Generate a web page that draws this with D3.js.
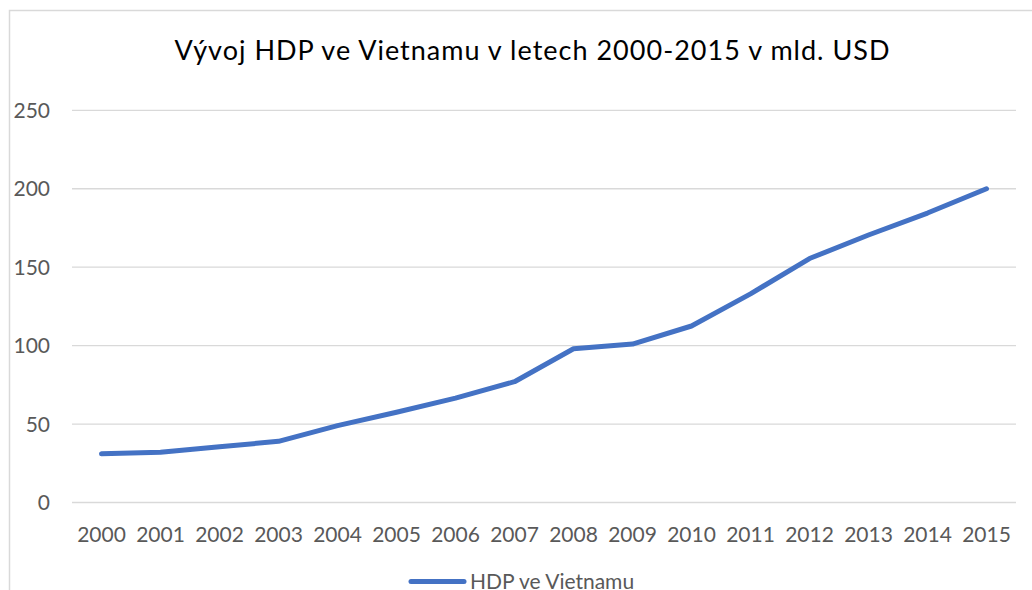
<!DOCTYPE html>
<html>
<head>
<meta charset="utf-8">
<script src="https://cdn.jsdelivr.net/npm/d3@7/dist/d3.min.js"></script>
<style>
  body { margin: 0; background: #fff; }
  svg { display: block; font-family: Lato, "Open Sans", sans-serif; }
</style>
</head>
<body>
<script>
// data
var years = ["2000","2001","2002","2003","2004","2005","2006","2007",
             "2008","2009","2010","2011","2012","2013","2014","2015"];
var hdp = [31, 32, 35.5, 39, 49, 57.5, 66.5, 77, 98, 101, 112.5, 133, 155.5, 170.5, 184.5, 200];
var yTicks = [0, 50, 100, 150, 200, 250];
var title = "Vývoj HDP ve Vietnamu v letech 2000-2015 v mld. USD";
var seriesName = "HDP ve Vietnamu";

var width = 1032, height = 590;
var plotLeft = 72, plotRight = 1016, plotTop = 110.3, plotBottom = 502.5;

var svg = d3.select("body").append("svg")
  .attr("width", width)
  .attr("height", height);

// chart frame
svg.append("rect")
  .attr("x", 9.5).attr("y", 10.5)
  .attr("width", width + 10).attr("height", height + 10)
  .attr("fill", "none")
  .attr("stroke", "#d9d9d9")
  .attr("stroke-width", 1.5);

var x = d3.scaleBand().domain(years).range([plotLeft, plotRight]);
var y = d3.scaleLinear().domain([0, 250]).range([plotBottom, plotTop]);

// gridlines
svg.append("g").selectAll("line")
  .data(yTicks)
  .enter().append("line")
  .attr("x1", plotLeft).attr("x2", plotRight)
  .attr("y1", function(d) { return y(d); })
  .attr("y2", function(d) { return y(d); })
  .attr("stroke", "#d9d9d9")
  .attr("stroke-width", 1.3);

// y labels
svg.append("g").selectAll("text")
  .data(yTicks)
  .enter().append("text")
  .attr("x", 50)
  .attr("y", function(d) { return y(d); })
  .attr("dy", "0.36em")
  .attr("text-anchor", "end")
  .attr("fill", "#595959")
  .style("font-size", "21px")
  .text(function(d) { return d; });

// x labels
svg.append("g").selectAll("text")
  .data(years)
  .enter().append("text")
  .attr("x", function(d) { return x(d) + x.bandwidth() / 2; })
  .attr("y", 541.5)
  .attr("text-anchor", "middle")
  .attr("fill", "#595959")
  .style("font-size", "21px")
  .text(function(d) { return d; });

// the line
var line = d3.line()
  .x(function(d, i) { return x(years[i]) + x.bandwidth() / 2; })
  .y(function(d) { return y(d); });

svg.append("path")
  .datum(hdp)
  .attr("d", line)
  .attr("fill", "none")
  .attr("stroke", "#4472c4")
  .attr("stroke-width", 5)
  .attr("stroke-linecap", "round")
  .attr("stroke-linejoin", "round");

// title
svg.append("text")
  .attr("x", 532)
  .attr("y", 59.5)
  .attr("text-anchor", "middle")
  .attr("fill", "#000")
  .attr("textLength", 715)
  .attr("lengthAdjust", "spacing")
  .style("font-size", "27px")
  .text(title);

// legend
var lg = svg.append("g");
lg.append("line")
  .attr("x1", 411).attr("x2", 464)
  .attr("y1", 581.5).attr("y2", 581.5)
  .attr("stroke", "#4472c4")
  .attr("stroke-width", 5)
  .attr("stroke-linecap", "round");
lg.append("text")
  .attr("x", 470)
  .attr("y", 588.5)
  .attr("fill", "#595959")
  .style("font-size", "21px")
  .text(seriesName);
</script>
</body>
</html>
